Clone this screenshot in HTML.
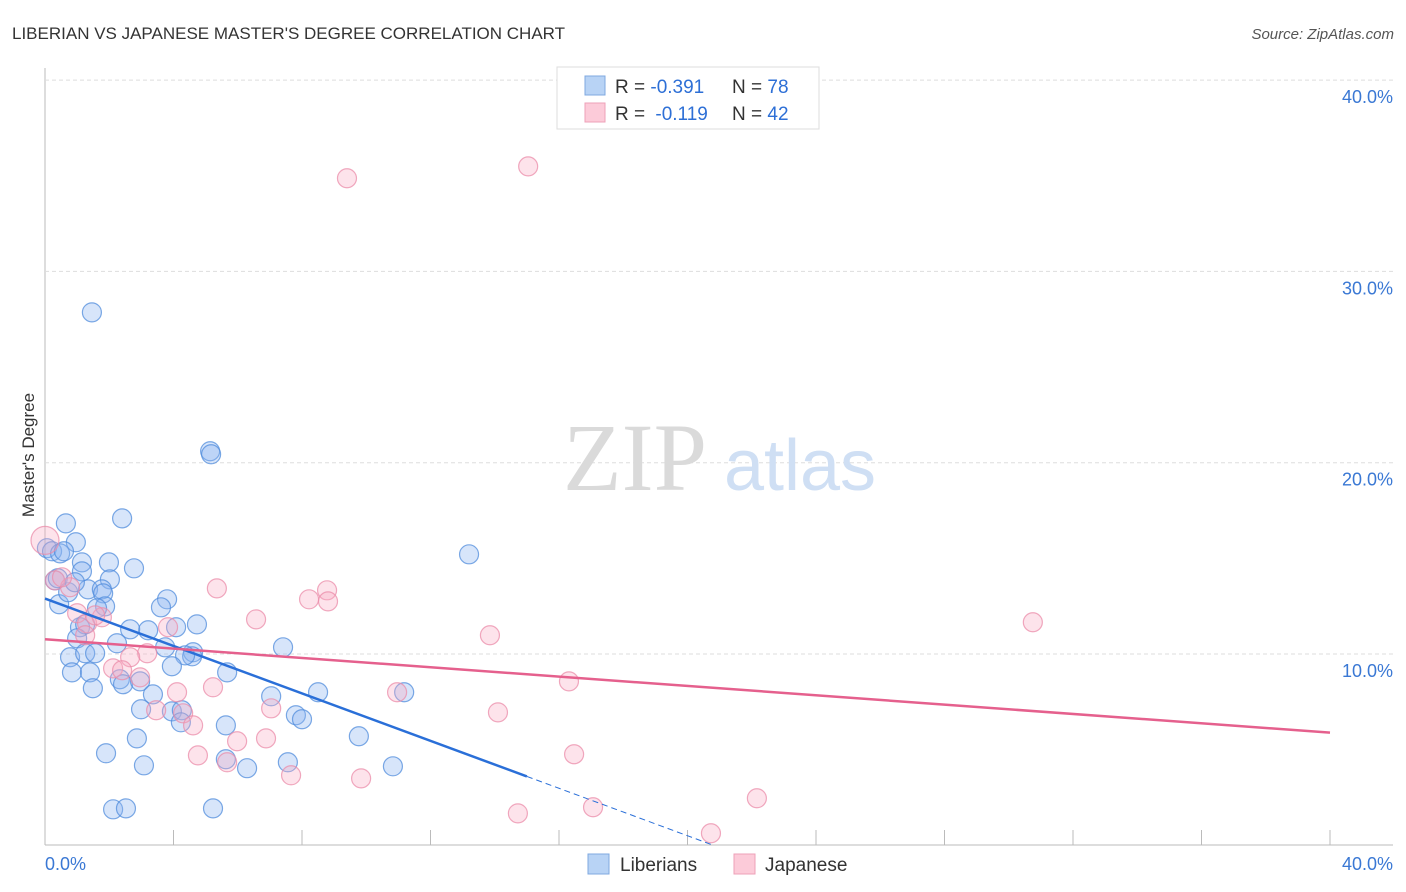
<!DOCTYPE html>
<html><head><meta charset="utf-8"><style>
body{margin:0;background:#fff;font-family:"Liberation Sans",sans-serif}
#c{position:absolute;left:0;top:0}
</style></head><body>
<svg id="c" width="1406" height="892">
<text x="12" y="39" font-size="17" fill="#333">LIBERIAN VS JAPANESE MASTER'S DEGREE CORRELATION CHART</text>
<text x="1394" y="39" font-size="15" fill="#555" font-style="italic" text-anchor="end">Source: ZipAtlas.com</text>
<g id="grid"></g>
<g><text x="635" y="490" font-size="96" font-family="Liberation Serif,serif" fill="#dadada" text-anchor="middle">ZIP</text><text x="800" y="490" font-size="72" fill="#cfdff4" text-anchor="middle">atlas</text></g>
<g id="pts"></g>
<g id="lines"></g>
<text x="34" y="455" font-size="17" fill="#333" transform="rotate(-90 34 455)" text-anchor="middle">Master's Degree</text>
<g>
<rect x="557" y="67" width="262" height="62" fill="#fff" stroke="#ddd"/>
<rect x="585" y="76" width="20" height="19" fill="#b8d3f5" stroke="#7fa8e0"/>
<rect x="585" y="103" width="20" height="19" fill="#fccbd9" stroke="#eea0b8"/>
<text x="615" y="93" font-size="19" fill="#333">R = <tspan fill="#2d6fd6">-0.391</tspan><tspan x="732">N = </tspan><tspan fill="#2d6fd6">78</tspan></text>
<text x="615" y="120" font-size="19" fill="#333">R = <tspan fill="#2d6fd6" dx="5">-0.119</tspan><tspan x="732">N = </tspan><tspan fill="#2d6fd6">42</tspan></text>
</g>
<g>
<rect x="588" y="854" width="21" height="20" fill="#b8d3f5" stroke="#7fa8e0"/>
<text x="620" y="871" font-size="19" fill="#333">Liberians</text>
<rect x="734" y="854" width="21" height="20" fill="#fccbd9" stroke="#eea0b8"/>
<text x="765" y="871" font-size="19" fill="#333">Japanese</text>
</g>
</svg>
<script>
const xTicks=[0,4,8,12,16,20,24,28,32,36,40];
const yTicks=[10,20,30,40];
const blueX=[2.40,0.65,0.96,1.99,2.77,1.15,1.15,2.02,1.34,1.77,1.81,0.44,3.80,3.61,1.87,1.62,4.73,4.08,3.21,2.65,1.09,1.25,2.24,1.00,3.74,4.61,4.58,4.36,7.41,0.78,1.25,1.56,0.84,1.40,1.49,3.95,5.67,2.33,2.43,2.96,3.36,7.04,8.50,2.99,3.95,4.26,4.23,5.63,7.81,8.00,2.86,1.90,3.08,5.63,6.29,7.56,2.12,2.52,5.23,5.14,5.17,1.46,13.20,9.77,10.83,11.18,0.06,0.22,0.47,0.59,0.31,0.40,0.72,0.93];
const blueY=[17.09,16.83,15.84,14.79,14.48,14.79,14.32,13.90,13.38,13.38,13.17,12.60,12.86,12.44,12.49,12.39,11.55,11.40,11.24,11.29,11.40,11.55,10.56,10.82,10.35,10.09,9.88,9.93,10.35,9.83,10.04,10.04,9.04,9.04,8.21,9.36,9.04,8.68,8.42,8.57,7.89,7.79,8.00,7.11,7.00,7.06,6.43,6.27,6.80,6.59,5.59,4.81,4.18,4.50,4.03,4.34,1.88,1.93,1.93,20.60,20.44,27.86,15.21,5.70,4.13,8.00,15.53,15.37,15.26,15.37,13.85,13.96,13.23,13.75];
const pinkX=[0.0,0.31,0.78,0.53,1.00,1.31,1.25,1.77,1.56,5.35,6.57,8.22,8.78,8.81,3.83,3.18,2.65,2.12,2.40,2.96,4.11,5.23,3.46,4.30,4.61,5.98,6.88,7.04,4.76,5.67,7.66,9.40,15.04,13.85,10.96,14.10,16.31,16.47,9.84,14.72,17.06,20.73,22.16,30.75];
const pinkY=[15.94,13.85,13.49,14.01,12.13,11.60,10.98,11.92,12.02,13.43,11.81,12.86,13.33,12.75,11.40,10.04,9.83,9.25,9.15,8.78,8.00,8.26,7.06,6.90,6.27,5.44,5.59,7.16,4.70,4.34,3.66,34.87,35.49,10.98,8.00,6.95,8.57,4.76,3.50,1.67,1.99,0.63,2.46,11.66];
const blueTrend=[12.9,-0.62];
const pinkTrend=[10.77,-0.122];
const X=v=>45+v*32.125, Y=v=>845.3-v*19.13;
const NS='http://www.w3.org/2000/svg';
function mk(t,a,p){const e=document.createElementNS(NS,t);for(const k in a)e.setAttribute(k,a[k]);p.appendChild(e);return e;}
const g=document.getElementById('grid');
mk('line',{x1:45,y1:68,x2:45,y2:845,stroke:'#bbb'},g);
mk('line',{x1:45,y1:845,x2:1393,y2:845,stroke:'#bbb'},g);
yTicks.forEach(v=>{mk('line',{x1:45,y1:Y(v),x2:1393,y2:Y(v),stroke:'#ddd','stroke-dasharray':'4,3'},g);
const t=mk('text',{x:1393,y:Y(v)+23,'font-size':18,fill:'#3a78d4','text-anchor':'end'},g);t.textContent=v.toFixed(1)+'%';

});
xTicks.forEach(v=>{mk('line',{x1:X(v),y1:830,x2:X(v),y2:845,stroke:'#bbb'},g);});
const l0=mk('text',{x:45,y:870,'font-size':18,fill:'#3a78d4'},g);l0.textContent='0.0%';
const l1=mk('text',{x:1393,y:870,'font-size':18,fill:'#3a78d4','text-anchor':'end'},g);l1.textContent='40.0%';
const P=document.getElementById('pts');
blueX.forEach((x,i)=>{const c=mk('circle',{cx:X(x),cy:Y(blueY[i]),r:9.5,fill:'rgba(140,180,240,0.35)',stroke:'rgba(80,140,220,0.75)','stroke-width':1.2},P);

});
pinkX.forEach((x,i)=>{const c=mk('circle',{cx:X(x),cy:Y(pinkY[i]),r:i==0?14:9.5,fill:'rgba(248,170,195,0.33)',stroke:'rgba(235,140,170,0.75)','stroke-width':1.2},P);

});
const L=document.getElementById('lines');
const b1=mk('line',{x1:X(0),y1:Y(blueTrend[0]),x2:X(15),y2:Y(blueTrend[0]+15*blueTrend[1]),stroke:'#2a6fd8','stroke-width':2.5},L);


const xe=-blueTrend[0]/blueTrend[1];
const b2=mk('line',{x1:X(15),y1:Y(blueTrend[0]+15*blueTrend[1]),x2:X(xe),y2:Y(0),stroke:'#2a6fd8','stroke-width':1,'stroke-dasharray':'6,4'},L);


const p1=mk('line',{x1:X(0),y1:Y(pinkTrend[0]),x2:X(40),y2:Y(pinkTrend[0]+40*pinkTrend[1]),stroke:'#e5608d','stroke-width':2.5},L);


</script>
</body></html>
